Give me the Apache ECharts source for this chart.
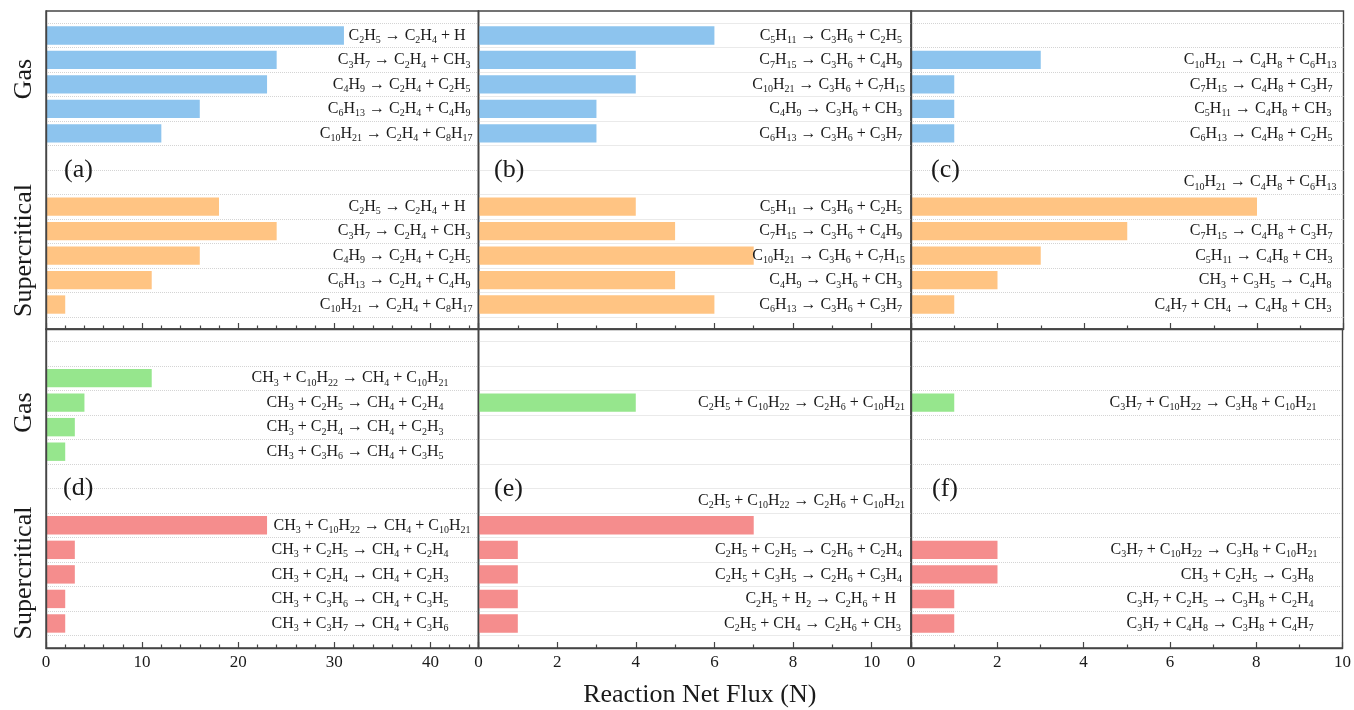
<!DOCTYPE html>
<html>
<head>
<meta charset="utf-8">
<script src="https://cdn.jsdelivr.net/npm/echarts@6/dist/echarts.min.js"></script>
<style>
  html, body { margin: 0; padding: 0; background: #fff; }
  #chart { width: 1354px; height: 710px; }
</style>
</head>
<body>
<div id="chart"></div>
<script>
// ---------------- DATA ----------------
// Panel (a): C2H4 formation
const aGasLabels = ['C2H5 → C2H4 + H', 'C3H7 → C2H4 + CH3', 'C4H9 → C2H4 + C2H5', 'C6H13 → C2H4 + C4H9', 'C10H21 → C2H4 + C8H17'];
const aGasValues = [31, 24, 23, 16, 12];
const aGapLabels = ['', ''];
const aScLabels = ['C2H5 → C2H4 + H', 'C3H7 → C2H4 + CH3', 'C4H9 → C2H4 + C2H5', 'C6H13 → C2H4 + C4H9', 'C10H21 → C2H4 + C8H17'];
const aScValues = [18, 24, 16, 11, 2];

// Panel (b): C3H6 formation
const bGasLabels = ['C5H11 → C3H6 + C2H5', 'C7H15 → C3H6 + C4H9', 'C10H21 → C3H6 + C7H15', 'C4H9 → C3H6 + CH3', 'C6H13 → C3H6 + C3H7'];
const bGasValues = [6, 4, 4, 3, 3];
const bGapLabels = ['', ''];
const bScLabels = ['C5H11 → C3H6 + C2H5', 'C7H15 → C3H6 + C4H9', 'C10H21 → C3H6 + C7H15', 'C4H9 → C3H6 + CH3', 'C6H13 → C3H6 + C3H7'];
const bScValues = [4, 5, 7, 5, 6];

// Panel (c): C4H8 formation
const cGasLabels = ['', 'C10H21 → C4H8 + C6H13', 'C7H15 → C4H8 + C3H7', 'C5H11 → C4H8 + CH3', 'C6H13 → C4H8 + C2H5'];
const cGasValues = [null, 3, 1, 1, 1];
const cGapLabels = ['', 'C10H21 → C4H8 + C6H13'];
const cScLabels = ['', 'C7H15 → C4H8 + C3H7', 'C5H11 → C4H8 + CH3', 'CH3 + C3H5 → C4H8', 'C4H7 + CH4 → C4H8 + CH3'];
const cScValues = [8, 5, 3, 2, 1];

// Panel (d): CH4 formation
const dGasLabels = ['', 'CH3 + C10H22 → CH4 + C10H21', 'CH3 + C2H5 → CH4 + C2H4', 'CH3 + C2H4 → CH4 + C2H3', 'CH3 + C3H6 → CH4 + C3H5'];
const dGasValues = [null, 11, 4, 3, 2];
const dGapLabels = ['', ''];
const dScLabels = ['CH3 + C10H22 → CH4 + C10H21', 'CH3 + C2H5 → CH4 + C2H4', 'CH3 + C2H4 → CH4 + C2H3', 'CH3 + C3H6 → CH4 + C3H5', 'CH3 + C3H7 → CH4 + C3H6'];
const dScValues = [23, 3, 3, 2, 2];

// Panel (e): C2H6 formation
const eGasLabels = ['', '', 'C2H5 + C10H22 → C2H6 + C10H21', '', ''];
const eGasValues = [null, null, 4, null, null];
const eGapLabels = ['', 'C2H5 + C10H22 → C2H6 + C10H21'];
const eScLabels = ['', 'C2H5 + C2H5 → C2H6 + C2H4', 'C2H5 + C3H5 → C2H6 + C3H4', 'C2H5 + H2 → C2H6 + H', 'C2H5 + CH4 → C2H6 + CH3'];
const eScValues = [7, 1, 1, 1, 1];

// Panel (f): C3H8 formation
const fGasLabels = ['', '', 'C3H7 + C10H22 → C3H8 + C10H21', '', ''];
const fGasValues = [null, null, 1, null, null];
const fGapLabels = ['', ''];
const fScLabels = ['', 'C3H7 + C10H22 → C3H8 + C10H21', 'CH3 + C2H5 → C3H8', 'C3H7 + C2H5 → C3H8 + C2H4', 'C3H7 + C4H8 → C3H8 + C4H7'];
const fScValues = [null, 2, 2, 1, 1];

const panelTags = ['(a)', '(b)', '(c)', '(d)', '(e)', '(f)'];
const sectionNames = ['Gas', 'Supercritical'];
const xAxisTitle = 'Reaction Net Flux (N)';
const columnMax = [45, 11, 10];
const columnInterval = [10, 2, 2];
const columnMinorSplit = [5, 2, 2];

// ---------------- LAYOUT / STYLE ----------------
const FONT = '"Liberation Serif", "Times New Roman", serif';
const TXT = '#1a1a1a';
const FRAME = '#454545';
const colLefts = [46, 478.5, 911];
const colWidth = 432.5;
const rowTops = [11, 329];
const rowHeights = [318, 319];
// extra right-side gap (px) of each row label, per panel (12 rows each)
const labelGaps = [
  [7, 2, 2, 2, 0, 0, 0, 7, 2, 2, 2, 0],
  [3, 3, 0, 3, 3, 0, 0, 3, 3, 0, 3, 3],
  [0, 1, 5, 6, 5, 0, 1, 0, 5, 5, 6, 6],
  [0, 24, 29, 29, 29, 0, 0, 2, 24, 24, 24, 24],
  [0, 0, 0, 0, 0, 0, 0, 0, 3, 3, 9, 4],
  [0, 0, 21, 0, 0, 0, 0, 0, 20, 24, 24, 24]
];
const tagPos = [[64, 170.5], [494, 170.5], [931, 170.5], [63, 488.5], [494, 489.5], [932, 489]];
const sectionPos = [[24, 79], [24, 250.5], [24, 412.5], [24, 573]];
const gasColors = ['#8DC4EE', '#96E68D'];
const scColors = ['#FFC483', '#F58D8D'];

const panels = [
  [aGasLabels, aGasValues, aGapLabels, aScLabels, aScValues],
  [bGasLabels, bGasValues, bGapLabels, bScLabels, bScValues],
  [cGasLabels, cGasValues, cGapLabels, cScLabels, cScValues],
  [dGasLabels, dGasValues, dGapLabels, dScLabels, dScValues],
  [eGasLabels, eGasValues, eGapLabels, eScLabels, eScValues],
  [fGasLabels, fGasValues, fGapLabels, fScLabels, fScValues]
];

const rich = {
  n: { fontSize: 16, fontFamily: FONT, color: TXT, lineHeight: 20 },
  s: { fontSize: 10, fontFamily: FONT, color: TXT, lineHeight: 10, verticalAlign: 'bottom' }
};

function toRich(s, gap) {
  if (!s) return '';
  let out = s.split(/(\d+)/).filter(p => p !== '')
    .map(p => /^\d+$/.test(p) ? '{s|' + p + '}' : '{n|' + p + '}').join('');
  if (gap > 0) {
    const key = 'g' + gap;
    if (!rich[key]) rich[key] = { width: gap, height: 10 };
    out += '{' + key + '|}';
  }
  return out;
}

const grid = [], xAxis = [], yAxis = [], series = [], graphic = [];

panels.forEach((p, k) => {
  const row = Math.floor(k / 3), col = k % 3;
  const [gasL, gasV, gapL, scL, scV] = p;
  const rowLabels = gasL.concat(gapL, scL);
  const richLabels = rowLabels.map((s, i) => toRich(s, labelGaps[k][i]));
  const cats = rowLabels.map((_, i) => 'r' + i);
  const gasData = gasV.concat(new Array(7).fill(null));
  const scData = new Array(7).fill(null).concat(scV);

  const top = rowTops[row], h = rowHeights[row];
  const band = h / 13;
  const left = colLefts[col];

  const fg = grid.length;
  grid.push({ left: left, top: top, width: colWidth, height: h, show: true,
    borderColor: FRAME, borderWidth: 1.4, backgroundColor: 'transparent', containLabel: false });
  const dg = grid.length;
  grid.push({ left: left, top: top + band / 2, width: colWidth, height: band * 12, containLabel: false });

  xAxis.push({
    type: 'value', gridIndex: fg, min: 0, max: columnMax[col], interval: columnInterval[col], z: 10,
    name: (k === 4) ? xAxisTitle : '', nameLocation: 'middle', nameGap: 34,
    nameTextStyle: { fontSize: 26, fontFamily: FONT, color: TXT, padding: [0, 0, 0, 10] },
    axisLine: { show: true, lineStyle: { color: FRAME, width: 1.4 } },
    axisTick: { show: true, inside: true, length: 6, lineStyle: { color: FRAME, width: 1.2 } },
    minorTick: { show: true, splitNumber: columnMinorSplit[col], length: 3.5, lineStyle: { color: FRAME, width: 1.2 } },
    axisLabel: { show: row === 1, fontSize: 17, fontFamily: FONT, color: TXT, margin: 6,
      showMinLabel: true, showMaxLabel: col === 2 },
    splitLine: { show: false }
  });
  const dx = xAxis.length;
  xAxis.push({ type: 'value', gridIndex: dg, min: 0, max: columnMax[col], show: false });

  yAxis.push({ type: 'value', gridIndex: fg, min: 0, max: 1, z: 10,
    axisLine: { show: true, lineStyle: { color: FRAME, width: 1.4 } },
    axisTick: { show: false }, axisLabel: { show: false }, splitLine: { show: false } });
  const dy = yAxis.length;
  yAxis.push({
    type: 'category', gridIndex: dg, data: cats, inverse: true, position: 'right', z: 10,
    axisLine: { show: false }, axisTick: { show: false },
    axisLabel: { show: true, inside: true, interval: 0, margin: 6,
      formatter: (v, i) => richLabels[i], rich: rich },
    splitLine: { show: true, interval: 0, lineStyle: { color: '#d4d4d4', width: 1, type: 'dotted' } }
  });

  series.push({ name: 'Gas', type: 'bar', xAxisIndex: dx, yAxisIndex: dy, data: gasData, z: 2,
    barCategoryGap: '25%', barGap: '-100%', itemStyle: { color: gasColors[row] } });
  series.push({ name: 'Supercritical', type: 'bar', xAxisIndex: dx, yAxisIndex: dy, data: scData, z: 2,
    barCategoryGap: '25%', barGap: '-100%', itemStyle: { color: scColors[row] } });

  graphic.push({ type: 'text', x: tagPos[k][0], y: tagPos[k][1], z: 20,
    style: { text: panelTags[k], fontSize: 26, fontFamily: FONT, fill: TXT,
      align: 'left', textAlign: 'left', verticalAlign: 'middle', textVerticalAlign: 'middle' } });
});

sectionPos.forEach((pos, i) => {
  graphic.push({ type: 'text', x: pos[0], y: pos[1], rotation: Math.PI / 2, z: 20,
    style: { text: sectionNames[i % 2], fontSize: 26, fontFamily: FONT, fill: TXT,
      align: 'center', textAlign: 'center', verticalAlign: 'middle', textVerticalAlign: 'middle' } });
});

const chart = echarts.init(document.getElementById('chart'), null, { renderer: 'canvas' });
chart.setOption({
  backgroundColor: '#ffffff',
  animation: false,
  grid: grid, xAxis: xAxis, yAxis: yAxis, series: series, graphic: graphic
});
</script>
</body>
</html>
